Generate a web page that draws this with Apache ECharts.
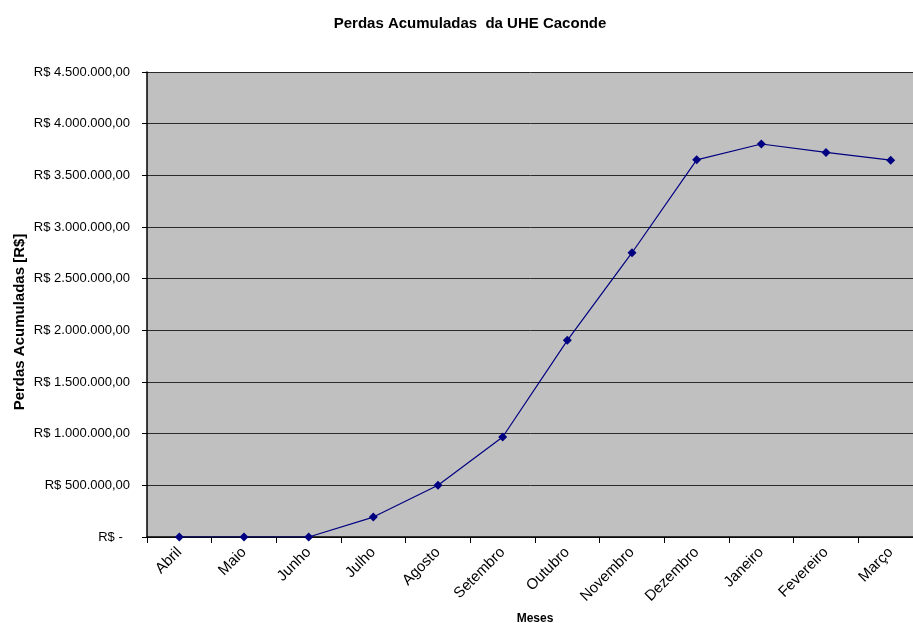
<!DOCTYPE html>
<html>
<head>
<meta charset="utf-8">
<script src="https://cdn.jsdelivr.net/npm/echarts@6/dist/echarts.min.js"></script>
<style>
html,body{margin:0;padding:0;background:#fff;overflow:hidden;}
#chart{width:913px;height:623px;}
</style>
</head>
<body>
<div id="chart"></div>
<script>
const categories = ['Abril','Maio','Junho','Julho','Agosto','Setembro','Outubro','Novembro','Dezembro','Janeiro','Fevereiro','Março'];
const perdas = [0, 0, 0, 193000, 500000, 968000, 1903000, 2751000, 3650000, 3803000, 3722000, 3647000];
const yMin = 0, yMax = 4500000, yInterval = 500000;

function fmtBRL(v){
  if (v === 0) return 'R$ -  ';
  const s = Math.round(v).toString().replace(/\B(?=(\d{3})+(?!\d))/g, '.');
  return 'R$ ' + s + ',00';
}

const chart = echarts.init(document.getElementById('chart'), null, {renderer:'canvas'});
chart.setOption({
  animation:false,
  backgroundColor:'#ffffff',
  textStyle:{fontFamily:'Liberation Sans, Arial, sans-serif'},
  title:{
    text:'Perdas Acumuladas  da UHE Caconde',
    left:465, top:11, textAlign:'center',
    textStyle:{fontSize:15, fontWeight:'bold', color:'#000', fontFamily:'Liberation Sans, Arial, sans-serif'}
  },
  grid:{left:147, top:72, width:776, height:465, containLabel:false,
        outerBoundsMode:'none',
        show:true, backgroundColor:'#C0C0C0', borderWidth:0},
  xAxis:{
    type:'category', data:categories, boundaryGap:true,
    name:'Meses', nameLocation:'middle', nameGap:76, nameMoveOverlap:false,
    nameTextStyle:{fontSize:12, fontWeight:'bold', color:'#000'},
    axisLine:{lineStyle:{color:'#000', width:1.5}},
    axisTick:{show:true, alignWithLabel:false, length:6, lineStyle:{color:'#000'}},
    axisLabel:{rotate:45, fontSize:15, color:'#000', margin:13, interval:0},
    splitLine:{show:false}
  },
  yAxis:{
    type:'value', min:yMin, max:yMax, interval:yInterval,
    name:'Perdas Acumuladas [R$]', nameLocation:'middle', nameGap:120, nameMoveOverlap:false,
    nameTextStyle:{fontSize:15, fontWeight:'bold', color:'#000', padding:[0,35,0,0]},
    axisLine:{show:true, lineStyle:{color:'#000', width:1.5}},
    axisTick:{show:true, length:5, lineStyle:{color:'#000'}},
    axisLabel:{fontSize:13, color:'#000', margin:17, formatter:fmtBRL},
    splitLine:{show:true, lineStyle:{color:'#2a2a2a', width:1}}
  },
  series:[{
    type:'line', data:perdas,
    symbol:'diamond', symbolSize:9,
    lineStyle:{color:'#000080', width:1.2},
    itemStyle:{color:'#000080'}
  }]
});
</script>
</body>
</html>
